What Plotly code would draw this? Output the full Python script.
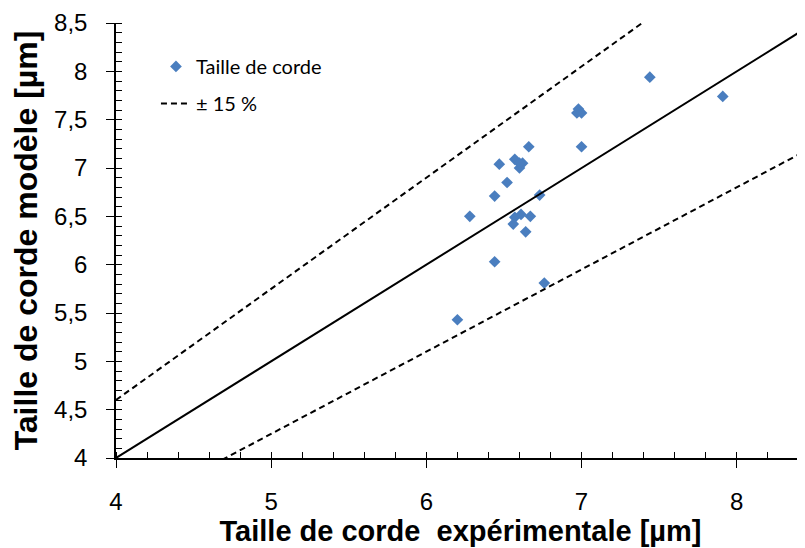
import plotly.graph_objects as go

# Data
exp_size = [7.91, 7.44, 6.97, 6.98, 7.00, 7.00, 6.66, 6.47, 6.57, 6.60, 6.62, 6.60,
            6.52, 6.73, 6.44, 6.28, 6.57, 6.61, 6.67, 6.56, 6.64, 6.44, 6.76, 6.20]
model_size = [7.74, 7.94, 7.57, 7.61, 7.57, 7.22, 7.22, 7.04, 7.09, 7.00, 7.05, 7.05,
              6.85, 6.72, 6.71, 6.50, 6.49, 6.52, 6.50, 6.42, 6.34, 6.03, 5.81, 5.43]

line_x = [4.0, 8.5]
tolerance = 0.15

x_range = [4, 8.44]
y_range = [4, 8.5]

blue = "#4A7EBF"
fig = go.Figure()

fig.add_trace(go.Scatter(
    x=exp_size, y=model_size, mode="markers", name="Taille de corde",
    marker=dict(symbol="diamond", size=9, color=blue),
    legendgroup="a"))

fig.add_trace(go.Scatter(
    x=line_x, y=[v * (1 + tolerance) for v in line_x], mode="lines", name="± 15 %",
    line=dict(color="black", width=2, dash="6px,4px"), legendgroup="b"))
fig.add_trace(go.Scatter(
    x=line_x, y=[v * (1 - tolerance) for v in line_x], mode="lines", name="± 15 %",
    line=dict(color="black", width=2, dash="6px,4px"), legendgroup="b", showlegend=False))
fig.add_trace(go.Scatter(
    x=line_x, y=line_x, mode="lines", name="1:1",
    line=dict(color="black", width=2), showlegend=False))

# invisible trace for overlay axes (inside half of crossing major ticks)
fig.add_trace(go.Scatter(x=[None], y=[None], xaxis="x2", yaxis="y2", showlegend=False))

tickfont = dict(family="Liberation Sans, Arial", size=24, color="black")
fig.update_layout(
    width=797, height=540,
    margin=dict(l=108, r=0, t=15, b=90),
    paper_bgcolor="white", plot_bgcolor="white",
    separators=", ",
    showlegend=True,
    legend=dict(x=0.058, y=0.945, xanchor="left", yanchor="top",
                font=dict(family="Lato, Open Sans", size=20, color="black"),
                bgcolor="rgba(0,0,0,0)", tracegroupgap=8, itemwidth=30),
    xaxis=dict(range=x_range, dtick=1, tick0=4, showgrid=False, zeroline=False,
               showline=True, linecolor="black", linewidth=1.5, automargin=False,
               ticks="outside", ticklen=8, tickwidth=1, tickcolor="black",
               tickfont=tickfont, ticklabelstandoff=13, ticklabeloverflow="allow",
               minor=dict(dtick=0.2, ticks="inside", ticklen=6, tickcolor="black", showgrid=False),
               title=dict(text="<b>Taille de corde  expérimentale [µm]</b>",
                          font=dict(family="Liberation Sans, Arial", size=29, color="black"),
                          standoff=6)),
    yaxis=dict(range=y_range, dtick=0.5, tick0=4, showgrid=False, zeroline=False,
               showline=True, linecolor="black", linewidth=1.5, automargin=False,
               ticks="outside", ticklen=8, tickwidth=1, tickcolor="black",
               tickfont=tickfont, ticklabelstandoff=14, ticklabeloverflow="allow",
               minor=dict(dtick=0.1, ticks="inside", ticklen=6, tickcolor="black", showgrid=False),
               title=dict(text="<b>Taille de corde modèle [µm]</b>",
                          font=dict(family="Liberation Sans, Arial", size=32, color="black"),
                          standoff=8)),
    xaxis2=dict(range=x_range, dtick=1, tick0=4, overlaying="x", anchor="y2", side="bottom",
                showgrid=False, zeroline=False, showline=False, showticklabels=False,
                automargin=False, ticks="inside", ticklen=6, tickcolor="black"),
    yaxis2=dict(range=y_range, dtick=0.5, tick0=4, overlaying="y", anchor="x2", side="left",
                showgrid=False, zeroline=False, showline=False, showticklabels=False,
                automargin=False, ticks="inside", ticklen=6, tickcolor="black"),
)

fig.write_html("out.html")
